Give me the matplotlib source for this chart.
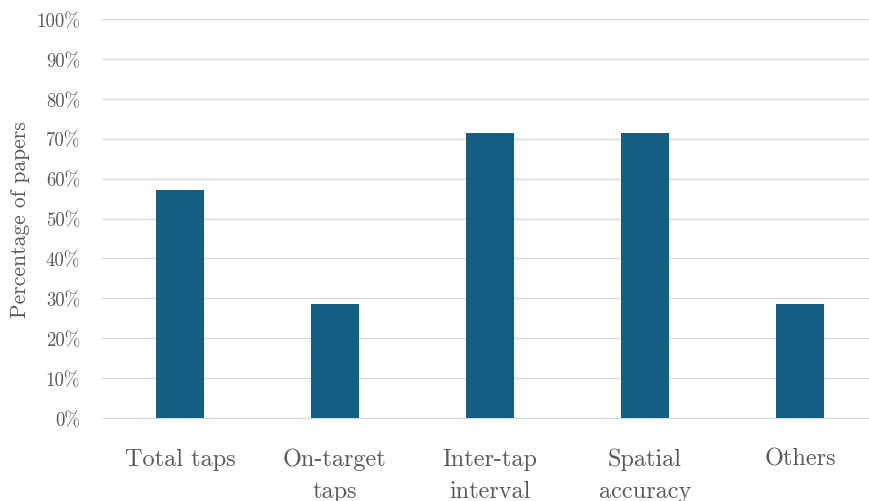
import matplotlib
matplotlib.use("Agg")
import matplotlib.pyplot as plt
from matplotlib.ticker import PercentFormatter

plt.rcParams['font.family'] = ['cmr10', 'DejaVu Serif']
plt.rcParams['axes.unicode_minus'] = False

categories = ["Total taps", "On-target\ntaps", "Inter-tap\ninterval", "Spatial\naccuracy", "Others"]
percentages = [57.1, 28.6, 71.4, 71.4, 28.6]

bar_color = "#155F82"
text_color = "#595959"
grid_color = "#d9d9d9"

fig = plt.figure(figsize=(8.7, 5.02), dpi=100)
ax = fig.add_axes([102.5 / 870, 83 / 502, 775 / 870, 399 / 502])

x = range(len(categories))
ax.bar(x, percentages, width=0.31, color=bar_color, zorder=3)

ax.set_xlim(-0.5, len(categories) - 0.5)
ax.set_ylim(0, 100)
ax.set_yticks(range(0, 101, 10))
ax.yaxis.set_major_formatter(PercentFormatter(decimals=0))
ax.set_xticks(list(x))
ax.set_xticklabels(categories, fontsize=17.5, color=text_color, linespacing=1.55)
ax.tick_params(axis='x', length=0, pad=21.5)
ax.tick_params(axis='y', length=0, pad=16, labelsize=13.5, labelcolor=text_color)

ax.grid(axis='y', color=grid_color, linewidth=1, zorder=0)
for s in ['top', 'right', 'left']:
    ax.spines[s].set_visible(False)
ax.spines['bottom'].set_color(grid_color)

ax.set_ylabel("Percentage of papers", fontsize=15.5, color=text_color)
ax.yaxis.set_label_coords(-0.093, 0.5)

fig.savefig("out.png", dpi=100)
